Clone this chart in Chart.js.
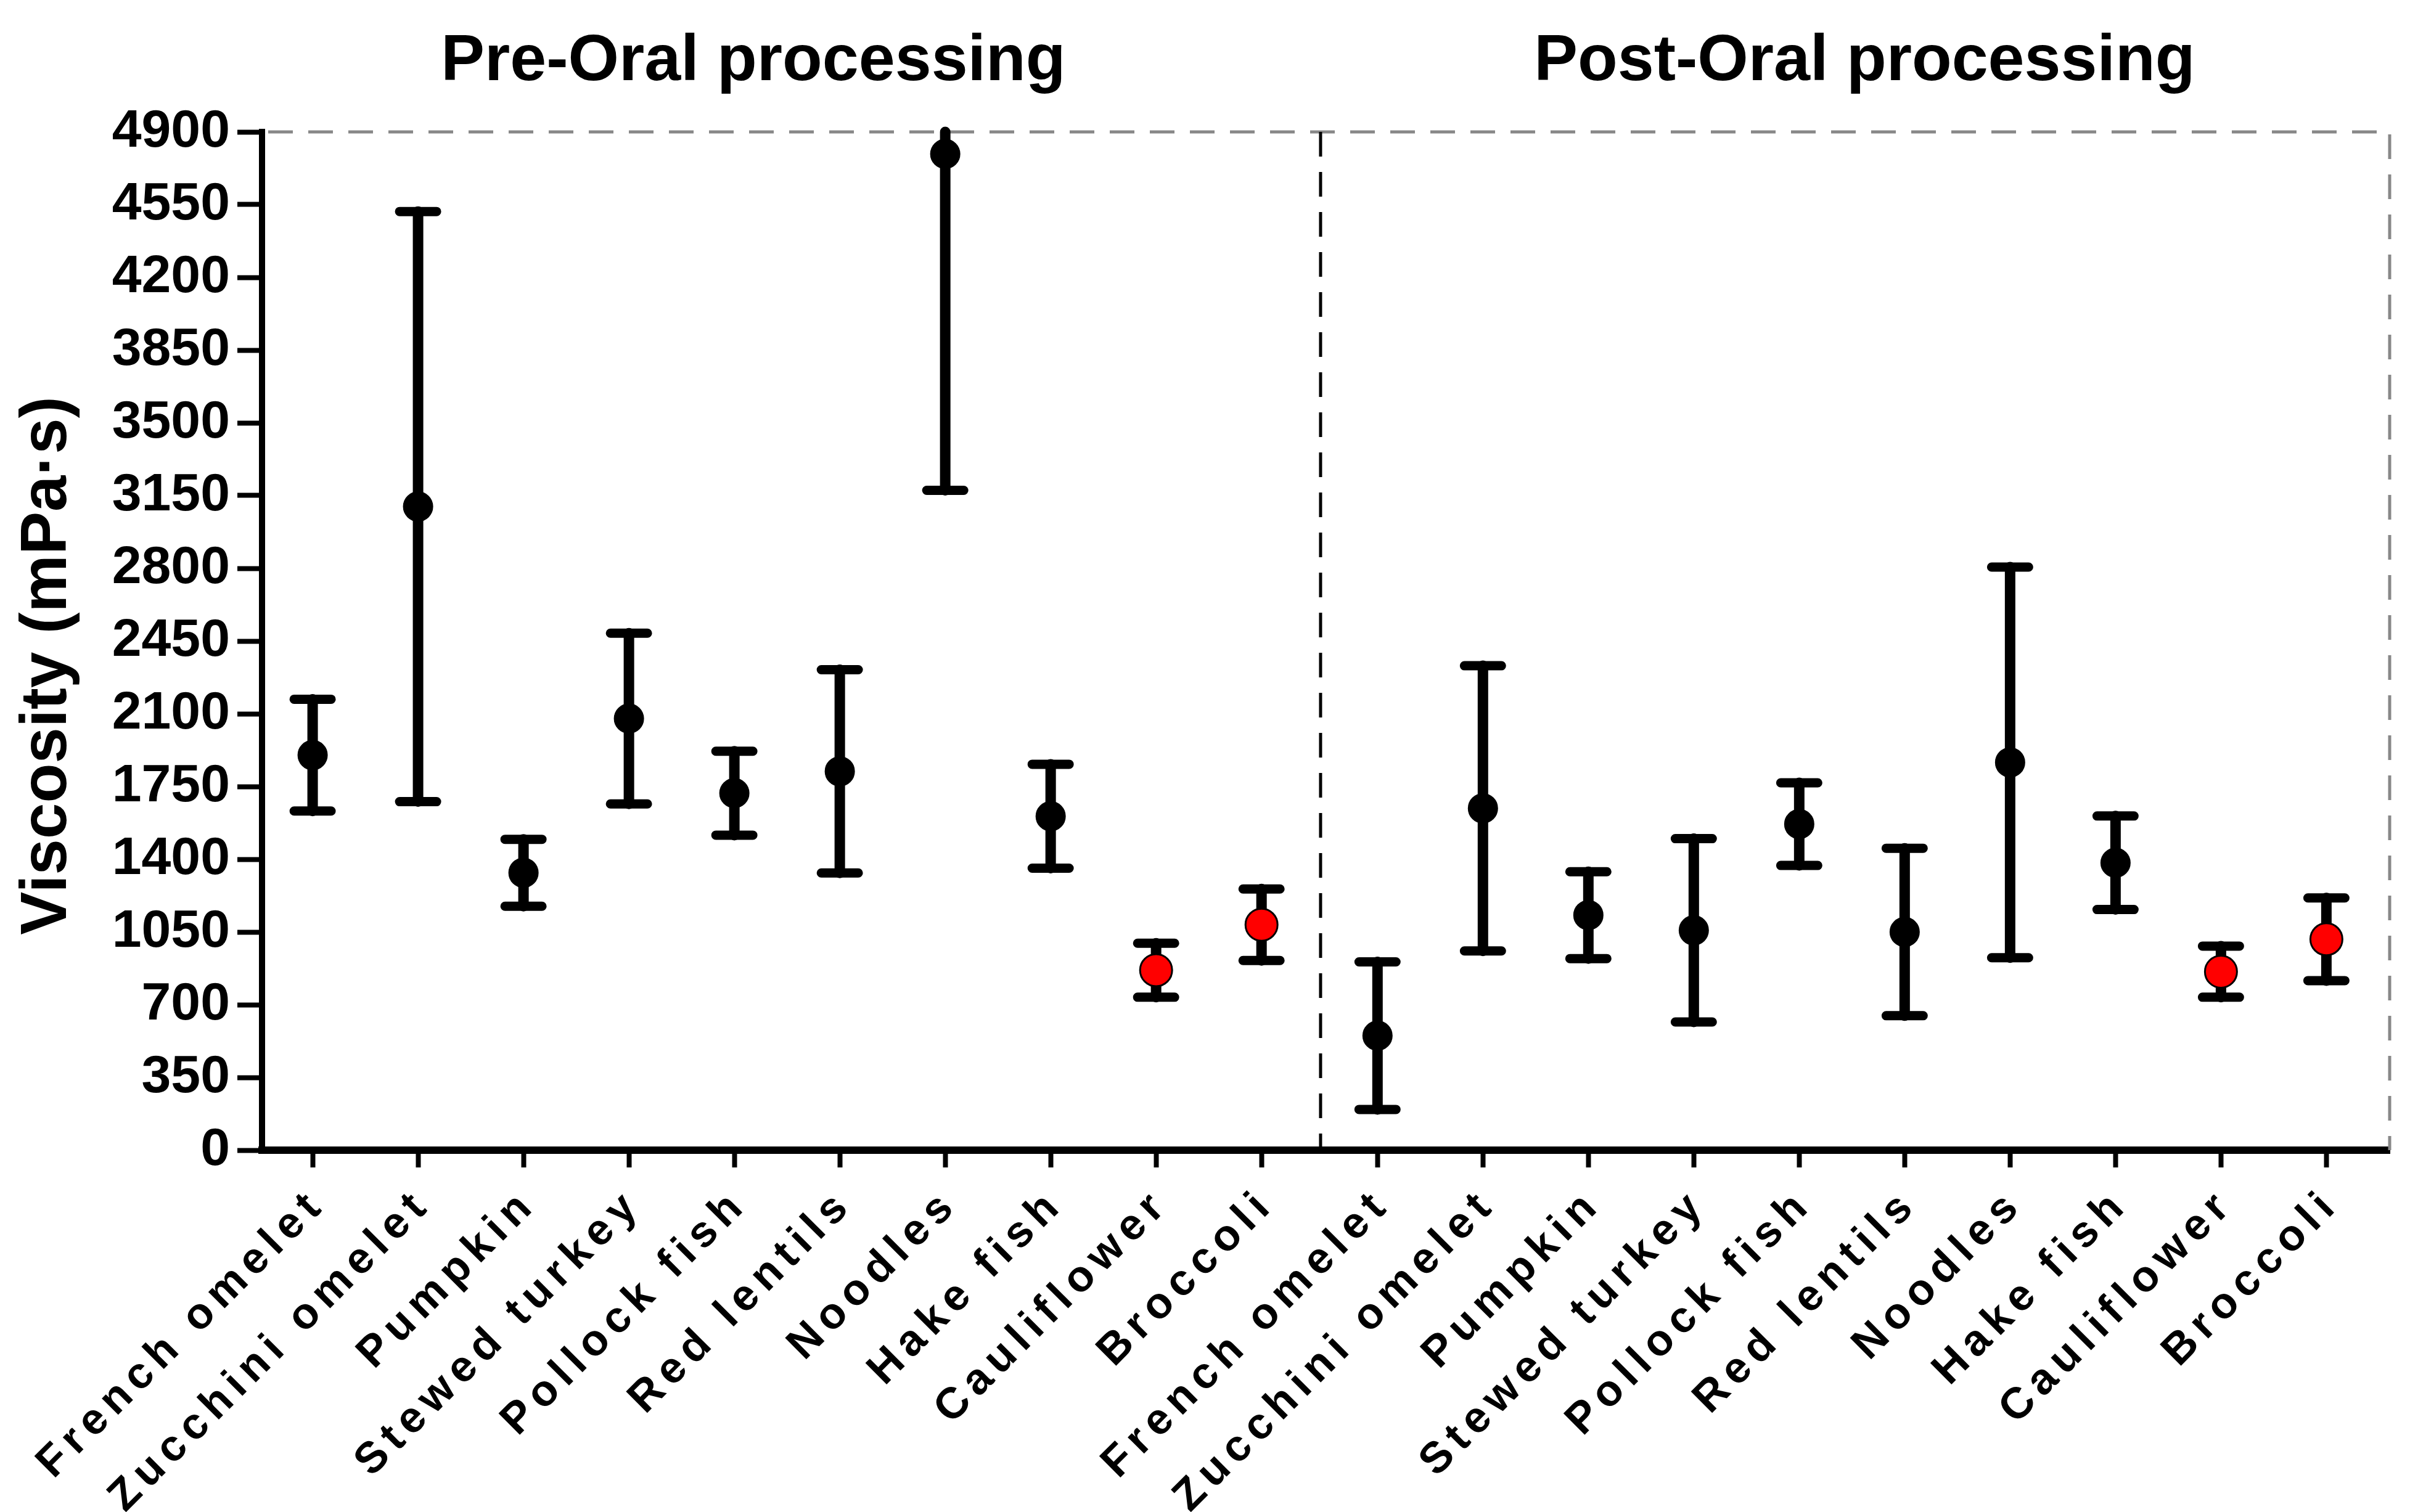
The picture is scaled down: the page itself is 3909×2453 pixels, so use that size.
<!DOCTYPE html>
<html>
<head>
<meta charset="utf-8">
<script src="https://cdn.jsdelivr.net/npm/chart.js@4.4.1/dist/chart.umd.min.js"></script>
<style>
  html, body { margin: 0; padding: 0; background: #fff; }
  canvas { display: block; }
</style>
</head>
<body>
<canvas id="viscChart" width="3909" height="2453"></canvas>
<script>
// foods, same order in both panels
const categories = ["French omelet", "Zucchini omelet", "Pumpkin", "Stewed turkey", "Pollock fish",
                    "Red lentils", "Noodles", "Hake fish", "Cauliflower", "Broccoli"];
const highlighted = ["Cauliflower", "Broccoli"];

// viscosity (mPa·s), mean and SD
const preMean = [1901, 3097, 1335, 2077, 1718, 1823, 4794, 1607, 866, 1085];
const preSD   = [269, 1420, 161, 411, 202, 489, 1619, 250, 130, 172];
const postMean = [551, 1645, 1131, 1058, 1569, 1050, 1866, 1383, 859, 1015];
const postSD   = [355, 686, 209, 441, 199, 403, 940, 225, 123, 199];

const panelTitles = ["Pre-Oral processing", "Post-Oral processing"];
const yTitle = "Viscosity (mPa·s)";

const FONT = "'Liberation Sans', Arial, sans-serif";
const postOffset = 10.1;
const xTickLabels = categories.concat(categories);
const xTickPos = categories.map((c, i) => i).concat(categories.map((c, i) => postOffset + i));

function pointsFor(means) {
    const off = means === postMean ? postOffset : 0;
    return means.map((m, i) => ({ x: off + i, y: m }));
}
const isHi = c => highlighted.includes(c);
const pointColors = categories.map(c => isHi(c) ? "#ff0000" : "#000000");
const pointSizes = categories.map(c => isHi(c) ? 26 : 23);

// frame, separator and error bars, drawn under the dots
const errorBars = {
    id: "errorBars",
    beforeDatasetsDraw(chart) {
        const ctx = chart.ctx;
        const xs = chart.scales.x, ys = chart.scales.y;
        const area = chart.chartArea;

        ctx.save();
        ctx.setLineDash([40, 25]);
        ctx.lineWidth = 5;
        ctx.strokeStyle = "#888888";
        ctx.beginPath();
        ctx.moveTo(area.left + 10, area.top);
        ctx.lineTo(area.right, area.top);
        ctx.lineTo(area.right, area.bottom);
        ctx.stroke();
        ctx.strokeStyle = "#000000";
        const sx = xs.getPixelForValue(9.56);
        ctx.beginPath();
        ctx.moveTo(sx, area.top);
        ctx.lineTo(sx, area.bottom);
        ctx.stroke();
        ctx.restore();

        ctx.save();
        ctx.strokeStyle = "#000000";
        ctx.lineCap = "round";
        chart.data.datasets.forEach(ds => {
            ds.data.forEach((p, i) => {
                const sd = ds.errors[i];
                const x = xs.getPixelForValue(p.x);
                const hiVal = p.y + sd;
                const clipped = hiVal > ys.max;
                const yHi = ys.getPixelForValue(Math.min(hiVal, ys.max));
                const yLo = ys.getPixelForValue(p.y - sd);
                ctx.lineWidth = 17;
                ctx.beginPath();
                ctx.moveTo(x, yHi);
                ctx.lineTo(x, yLo);
                ctx.stroke();
                ctx.lineWidth = 15;
                ctx.beginPath();
                if (!clipped) {
                    ctx.moveTo(x - 30, yHi);
                    ctx.lineTo(x + 30, yHi);
                }
                ctx.moveTo(x - 30, yLo);
                ctx.lineTo(x + 30, yLo);
                ctx.stroke();
            });
        });
        ctx.restore();
    }
};

const panelHeads = {
    id: "panelHeads",
    afterDraw(chart) {
        const ctx = chart.ctx;
        const xs = chart.scales.x, ys = chart.scales.y;
        ctx.save();
        ctx.fillStyle = "#000";
        ctx.textAlign = "center";
        ctx.textBaseline = "alphabetic";
        ctx.font = "bold 106px " + FONT;
        ctx.fillText(panelTitles[0], xs.getPixelForValue(4.18), 130);
        ctx.fillText(panelTitles[1], xs.getPixelForValue(14.72), 130);

        // axis title, a little below the middle of the axis as in the original
        ctx.font = "bold 105px " + FONT;
        ctx.textBaseline = "middle";
        ctx.translate(78, (ys.top + ys.bottom) / 2 + 40);
        ctx.rotate(-Math.PI / 2);
        ctx.fillText(yTitle, 0, 0);
        ctx.restore();
    }
};

// wider letter spacing on the food names
const spacedLabels = {
    id: "spacedLabels",
    beforeDraw(chart) {
        const s = chart.scales.x;
        if (s._spaced) return;
        const orig = s.drawLabels;
        s.drawLabels = function (area) {
            this.ctx.save();
            this.ctx.letterSpacing = "11px";
            orig.call(this, area);
            this.ctx.restore();
        };
        s._spaced = true;
    }
};

const ctx = document.getElementById("viscChart").getContext("2d");
const viscChart = new Chart(ctx, {
    type: "scatter",
    data: {
        datasets: [
            { label: "Pre", data: pointsFor(preMean), errors: preSD,
              pointBackgroundColor: pointColors, pointBorderColor: "#000", pointBorderWidth: 3,
              pointRadius: pointSizes, pointHoverRadius: pointSizes },
            { label: "Post", data: pointsFor(postMean), errors: postSD,
              pointBackgroundColor: pointColors, pointBorderColor: "#000", pointBorderWidth: 3,
              pointRadius: pointSizes, pointHoverRadius: pointSizes }
        ]
    },
    options: {
        responsive: false,
        devicePixelRatio: 1,
        animation: false,
        layout: { padding: { top: 214, right: 33, left: 0, bottom: 0 } },
        plugins: { legend: { display: false }, tooltip: { enabled: false } },
        scales: {
            x: {
                type: "linear",
                min: -0.48,
                max: 19.7,
                afterBuildTicks: scale => { scale.ticks = xTickPos.map(v => ({ value: v })); },
                afterFit: scale => { scale.height = 2453 - 1866; },
                grid: { drawOnChartArea: false, drawTicks: true, tickLength: 28, tickWidth: 8, tickColor: "#000" },
                border: { display: true, width: 12, color: "#000" },
                ticks: {
                    autoSkip: false,
                    minRotation: 45,
                    maxRotation: 45,
                    padding: 18,
                    labelOffset: 10,
                    color: "#000",
                    font: { family: FONT, size: 71, weight: "bold" },
                    callback: (v, i) => xTickLabels[i]
                }
            },
            y: {
                min: 0,
                max: 4900,
                afterFit: scale => { scale.width = 425; },
                grid: { drawOnChartArea: false, drawTicks: true, tickLength: 40, tickWidth: 8, tickColor: "#000" },
                border: { display: true, width: 10, color: "#000" },
                ticks: {
                    stepSize: 350,
                    maxTicksLimit: 20,
                    padding: 12,
                    color: "#000",
                    font: { family: FONT, size: 86, weight: "bold" },
                    callback: v => String(v)
                }
            }
        }
    },
    plugins: [errorBars, panelHeads, spacedLabels]
});
</script>
</body>
</html>
